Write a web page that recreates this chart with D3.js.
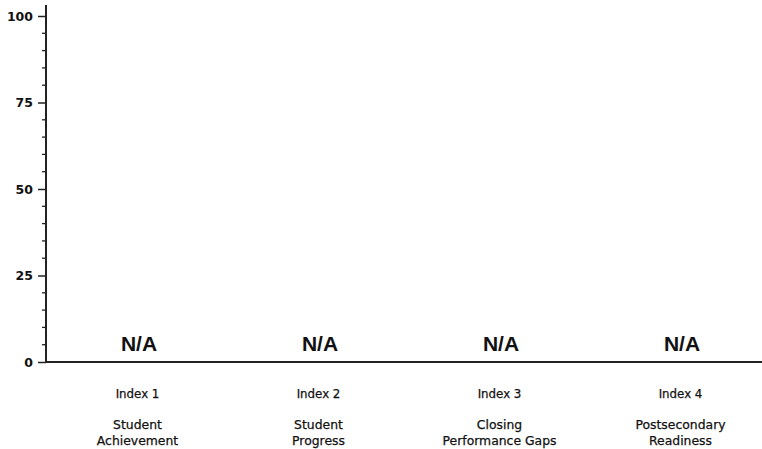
<!DOCTYPE html>
<html>
<head>
<meta charset="utf-8">
<script src="https://cdn.jsdelivr.net/npm/d3@7"></script>
<style>
  body { margin: 0; background: #fff; }
  svg { display: block; font-family: "DejaVu Sans", sans-serif; }
</style>
</head>
<body>
<svg id="chart" width="762" height="449"></svg>
<script>
// chart data
const indexes = ["Index 1", "Index 2", "Index 3", "Index 4"];
const titles = [["Student", "Achievement"], ["Student", "Progress"], ["Closing", "Performance Gaps"], ["Postsecondary", "Readiness"]];
const values = [null, null, null, null];   // no scores reported
const yTicks = [0, 25, 50, 75, 100];

const svg = d3.select("#chart");
const y0 = 362, y100 = 16, axisX = 46;

const x = d3.scaleBand().domain(indexes).range([47, 771]);
const y = d3.scaleLinear().domain([0, 100]).range([y0, y100]);

// y axis: major ticks with labels
const yAxis = svg.append("g")
  .attr("transform", "translate(" + axisX + ",0)")
  .call(d3.axisLeft(y).tickValues(yTicks).tickSize(8).tickSizeOuter(0).tickPadding(5));
yAxis.select(".domain").remove();
yAxis.selectAll("line").attr("stroke", "#222").attr("stroke-width", 1.5);
yAxis.selectAll("text")
  .attr("fill", "#111")
  .style("font-family", "'DejaVu Sans', sans-serif")
  .style("font-size", "12.5px")
  .style("font-weight", "bold");

// minor ticks every 5
svg.append("g").selectAll("line")
  .data(d3.range(5, 100, 5).filter(d => d % 25 !== 0))
  .join("line")
  .attr("x1", axisX - 4).attr("x2", axisX)
  .attr("y1", d => y(d)).attr("y2", d => y(d))
  .attr("stroke", "#222").attr("stroke-width", 1.3);

// axis lines
svg.append("line")
  .attr("x1", axisX).attr("x2", axisX).attr("y1", 5).attr("y2", y0)
  .attr("stroke", "#222").attr("stroke-width", 2);
svg.append("line")
  .attr("x1", axisX - 1).attr("x2", 762).attr("y1", y0).attr("y2", y0)
  .attr("stroke", "#222").attr("stroke-width", 2);

// bars (none to draw when value missing) and N/A labels
const cats = indexes.map((d, i) => ({ name: d, title: titles[i], value: values[i] }));

svg.append("g").selectAll("rect")
  .data(cats.filter(d => d.value != null))
  .join("rect")
  .attr("x", d => x(d.name) + x.bandwidth() * 0.25)
  .attr("width", x.bandwidth() * 0.5)
  .attr("y", d => y(d.value))
  .attr("height", d => y0 - y(d.value))
  .attr("fill", "#555");

svg.append("g").selectAll("text")
  .data(cats.filter(d => d.value == null))
  .join("text")
  .attr("x", d => x(d.name) + x.bandwidth() / 2 + 1.5)
  .attr("y", 351)
  .attr("text-anchor", "middle")
  .style("font-family", "'Liberation Sans', Arial, sans-serif")
  .style("font-size", "21px")
  .style("font-weight", "bold")
  .attr("fill", "#111")
  .text("N/A");

// category labels
const lab = svg.append("g").selectAll("g")
  .data(cats)
  .join("g")
  .attr("transform", d => "translate(" + (x(d.name) + x.bandwidth() / 2) + ",0)")
  .attr("text-anchor", "middle")
  .attr("fill", "#111")
  .attr("stroke", "#111")
  .attr("stroke-width", 0.25);

lab.append("text").attr("y", 398).style("font-size", "11.8px").text(d => d.name);
lab.append("text").attr("y", 429).style("font-size", "12.4px").text(d => d.title[0]);
lab.append("text").attr("y", 445).style("font-size", "12.4px").text(d => d.title[1]);
</script>
</body>
</html>
